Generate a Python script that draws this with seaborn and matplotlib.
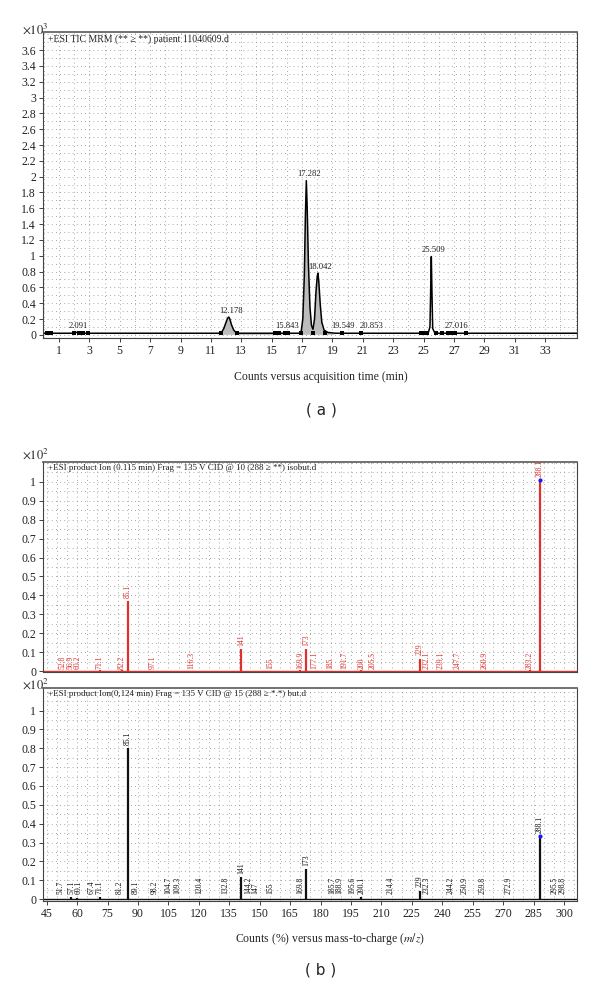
import matplotlib
matplotlib.use("Agg")
import pandas as pd
import seaborn as sns
import matplotlib.pyplot as plt
from matplotlib.ticker import MultipleLocator, FixedLocator, FuncFormatter

# ---- (a) total ion chromatogram, counts x10^3 ----
tic_time = [0.0, 0.5, 1.0, 1.9, 2.09, 2.3, 3.0, 11.5, 11.7, 11.85, 12.0, 12.1,
            12.178, 12.25, 12.35, 12.5, 12.65, 12.9, 16.8, 16.95, 17.05, 17.15,
            17.22, 17.282, 17.34, 17.42, 17.52, 17.62, 17.72, 17.82, 17.92, 18.0,
            18.042, 18.1, 18.2, 18.3, 18.45, 18.7, 19.2, 25.3, 25.42, 25.47,
            25.509, 25.55, 25.6, 25.75, 35.2]
tic_counts = [0.02, 0.02, 0.02, 0.02, 0.035, 0.02, 0.02, 0.02, 0.03, 0.08, 0.16, 0.21,
              0.225, 0.2, 0.13, 0.06, 0.03, 0.02, 0.02, 0.05, 0.2, 0.75,
              1.5, 1.95, 1.6, 0.9, 0.35, 0.12, 0.07, 0.2, 0.55, 0.74,
              0.78, 0.68, 0.38, 0.16, 0.06, 0.03, 0.02, 0.02, 0.1, 0.6,
              0.99, 0.55, 0.08, 0.02, 0.02]
tic_filled = [(11.6, 12.9), (16.9, 18.8)]
tic_marker_time = [0.2, 0.5, 2.0, 2.3, 2.6, 2.9, 11.65, 12.7, 15.2, 15.5, 15.9, 16.1,
                   16.95, 17.72, 18.5, 19.6, 20.9, 24.8, 25.0, 25.2, 25.85, 26.2,
                   26.6, 26.9, 27.1, 27.8]
tic_peak_time = [2.091, 12.178, 15.843, 17.282, 18.042, 19.549, 20.853, 25.509, 27.016]
tic_peak_height = [0.03, 0.225, 0.02, 1.95, 0.78, 0.02, 0.02, 0.99, 0.02]
tic_xticks = [1, 3, 5, 7, 9, 11, 13, 15, 17, 19, 21, 23, 25, 27, 29, 31, 33]
tic_yticks = [0, 0.2, 0.4, 0.6, 0.8, 1, 1.2, 1.4, 1.6, 1.8, 2, 2.2, 2.4, 2.6, 2.8,
              3, 3.2, 3.4, 3.6]

# ---- (b) product ion spectra, counts (%) x10^2 ----
isobut_mz = [52.8, 56.9, 60.2, 71.1, 82.2, 85.1, 97.1, 116.3, 141.0, 155.0, 169.9,
             173.0, 177.1, 185.0, 191.7, 200.0, 205.5, 229.0, 232.1, 239.1, 247.7,
             260.9, 283.2, 288.1]
isobut_int = [0.002, 0.002, 0.002, 0.008, 0.003, 0.37, 0.002, 0.002, 0.115, 0.002,
              0.004, 0.115, 0.002, 0.002, 0.002, 0.006, 0.002, 0.065, 0.002, 0.002,
              0.002, 0.002, 0.003, 1.01]
isobut_lbl = ["52.8", "56.9", "60.2", "71.1", "82.2", "85.1", "97.1", "116.3", "141",
              "155", "169.9", "173", "177.1", "185", "191.7", "200", "205.5", "229",
              "232.1", "239.1", "247.7", "260.9", "283.2", "288.1"]

but_mz = [51.7, 57.1, 60.1, 67.4, 71.1, 81.2, 85.1, 89.1, 98.2, 104.7, 109.3, 120.4,
          132.8, 141.0, 144.2, 147.0, 155.0, 169.8, 173.0, 185.7, 188.9, 195.6, 200.1,
          214.4, 229.0, 232.3, 244.2, 250.9, 259.8, 272.9, 288.1, 295.5, 298.8]
but_int = [0.002, 0.01, 0.004, 0.002, 0.01, 0.002, 0.8, 0.002, 0.002, 0.002, 0.002,
           0.002, 0.002, 0.115, 0.002, 0.002, 0.002, 0.002, 0.16, 0.002, 0.002, 0.002,
           0.01, 0.002, 0.045, 0.002, 0.002, 0.002, 0.002, 0.002, 0.335, 0.002, 0.002]
but_lbl = ["51.7", "57.1", "60.1", "67.4", "71.1", "81.2", "85.1", "89.1", "98.2",
           "104.7", "109.3", "120.4", "132.8", "141", "144.2", "147", "155", "169.8",
           "173", "185.7", "188.9", "195.6", "200.1", "214.4", "229", "232.3", "244.2",
           "250.9", "259.8", "272.9", "288.1", "295.5", "298.8"]
ms_yticks = [0, 0.1, 0.2, 0.3, 0.4, 0.5, 0.6, 0.7, 0.8, 0.9, 1]

sns.set_theme(style="white")
plt.rcParams["font.family"] = ["Liberation Serif", "DejaVu Serif"]
plt.rcParams["mathtext.fontset"] = "stix"

fig = plt.figure(figsize=(6, 9.9), dpi=100)
ax_a = fig.add_axes([0.0717, 0.6586, 0.89, 0.3091])
ax_b1 = fig.add_axes([0.0717, 0.3212, 0.89, 0.2121])
ax_b2 = fig.add_axes([0.0717, 0.0899, 0.89, 0.2152])

fmt = FuncFormatter(lambda v, p: f"{v:g}")
grid_kw = dict(which="both", color="#8c8c8c", linestyle=(0, (1, 4)), linewidth=0.6)


def style_axes(ax):
    for s in ax.spines.values():
        s.set_color("#444444")
        s.set_linewidth(0.8)
    ax.spines["top"].set_linewidth(1.3)
    ax.spines["top"].set_color("#666666")
    ax.tick_params(which="major", direction="out", length=3, width=0.6,
                   colors="#222222", labelsize=8.5, pad=2)
    ax.tick_params(which="minor", direction="out", length=2, width=0.5, colors="#222222")
    ax.tick_params(axis="x", bottom=True)
    ax.tick_params(axis="y", left=True)
    ax.yaxis.set_major_formatter(fmt)
    ax.grid(True, **grid_kw)
    ax.set_axisbelow(True)
    ax.set_xlabel("")
    ax.set_ylabel("")


# ---- panel (a) ----
tic = pd.DataFrame({"time": tic_time, "counts": tic_counts})
mask = tic["time"].apply(lambda t: any(a <= t <= b for a, b in tic_filled))
ax_a.fill_between(tic["time"], 0, tic["counts"], where=mask, color="#bcbcbc",
                  linewidth=0, interpolate=True)
sns.lineplot(data=tic, x="time", y="counts", ax=ax_a, color="black", lw=1.1,
             sort=False, estimator=None)
sns.scatterplot(x=tic_marker_time, y=[0.02] * len(tic_marker_time), ax=ax_a,
                marker="s", s=7, color="black", linewidth=0)
last_x = -10.0
for t, h in zip(tic_peak_time, tic_peak_height):
    y = h + 0.03 if h > 0.1 else 0.06
    x = t + 0.15
    if h <= 0.1:
        # keep neighbouring baseline labels from running into each other
        x = max(x, last_x + 1.85)
        last_x = x
    ax_a.text(x, y, f"{t:.3f}", ha="center", va="bottom", fontsize=6.2,
              color="#222222")

ax_a.set_xlim(-0.05, 35.1)
ax_a.set_ylim(-0.04, 3.83)
ax_a.xaxis.set_major_locator(FixedLocator(tic_xticks))
ax_a.xaxis.set_minor_locator(MultipleLocator(1))
ax_a.yaxis.set_major_locator(FixedLocator(tic_yticks))
ax_a.yaxis.set_minor_locator(MultipleLocator(0.1))
style_axes(ax_a)
ax_a.text(0.01, 0.992, "+ESI TIC MRM (** ≥ **) patient 11040609.d",
          transform=ax_a.transAxes, ha="left", va="top", fontsize=7, color="#222222")
fig.text(22 / 600, 1 - 37 / 990, r"$\times10^3$", ha="left", va="bottom", fontsize=9)
fig.text(321 / 600, 1 - 377 / 990, "Counts versus acquisition time (min)",
         ha="center", va="center", fontsize=8.5)
fig.text(321 / 600, 1 - 410 / 990, "( a )", ha="center", va="center",
         fontsize=11, family="DejaVu Sans")


# ---- panel (b) ----
def spectrum(ax, mz, inten, labels, color, lbl_floor, title, dot_mz):
    ax.vlines(mz, 0, inten, color=color, lw=1.6)
    ax.axhline(0.002, color=color, lw=1.0)
    dot = [i for m, i in zip(mz, inten) if m == dot_mz]
    sns.scatterplot(x=[dot_mz], y=dot, ax=ax, color="#1a1aff", s=9, linewidth=0, zorder=5)
    last = -100.0
    for m, h, lab in zip(mz, inten, labels):
        if h > 0.03:
            x, y = m, h + 0.018
        else:
            x, y = max(m, last + 3.6), lbl_floor
            last = x
        ax.text(x, y, lab, rotation=90, ha="center", va="bottom", fontsize=5.5,
                color=color, clip_on=False)
    ax.set_xlim(43.2, 306.4)
    ax.xaxis.set_major_locator(MultipleLocator(15))
    ax.xaxis.set_minor_locator(MultipleLocator(5))
    ax.yaxis.set_major_locator(FixedLocator(ms_yticks))
    ax.yaxis.set_minor_locator(MultipleLocator(0.05))
    style_axes(ax)
    ax.text(0.01, 0.99, title, transform=ax.transAxes, ha="left", va="top",
            fontsize=6.5, color="#222222")


spectrum(ax_b1, isobut_mz, isobut_int, isobut_lbl, "#e0302c", 0.01,
         "+ESI product Ion (0.115 min) Frag = 135 V CID @ 10 (288 ≥ **) isobut.d", 288.1)
ax_b1.set_ylim(-0.005, 1.105)
ax_b1.tick_params(axis="x", which="both", labelbottom=False, bottom=False)

spectrum(ax_b2, but_mz, but_int, but_lbl, "#111111", 0.025,
         "+ESI product Ion(0,124 min) Frag = 135 V CID @ 15 (288 ≥ *.*) but.d", 288.1)
ax_b2.set_ylim(-0.01, 1.12)

fig.text(22 / 600, 1 - 462 / 990, r"$\times10^2$", ha="left", va="bottom", fontsize=9)
fig.text(22 / 600, 1 - 692 / 990, r"$\times10^2$", ha="left", va="bottom", fontsize=9)
fig.text(330 / 600, 1 - 939 / 990, r"Counts (%) versus mass-to-charge ($m/z$)",
         ha="center", va="center", fontsize=8.5)
fig.text(321 / 600, 1 - 970 / 990, "( b )", ha="center", va="center",
         fontsize=11, family="DejaVu Sans")

fig.savefig("out.png", dpi=100)
